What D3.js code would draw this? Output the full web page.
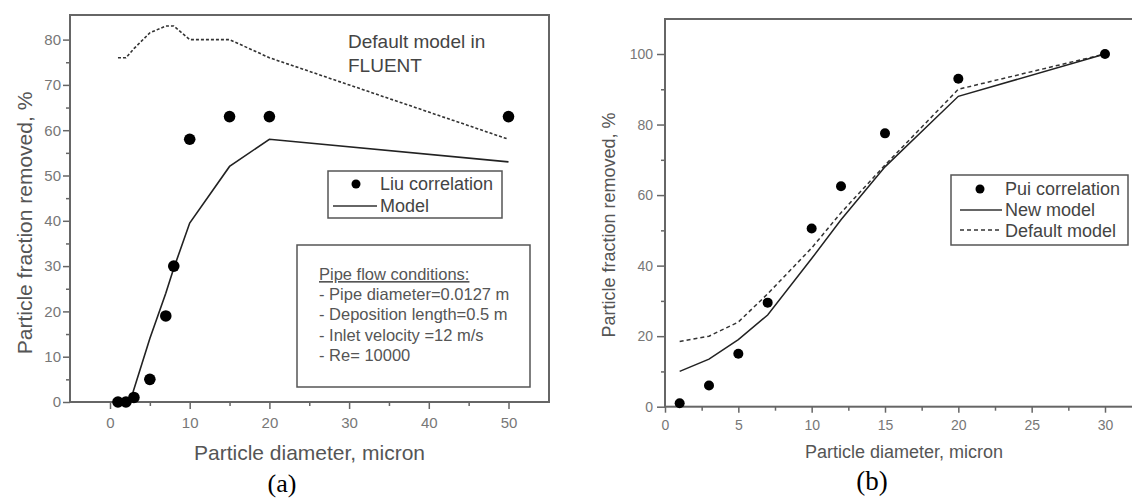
<!DOCTYPE html>
<head>
<meta charset="utf-8">
<script src="https://d3js.org/d3.v7.min.js"></script>
<style>
body { margin:0; background:#fff; }
svg { font-family: "Liberation Sans", Arial, sans-serif; }
.axis path { display:none; }
.axis line { stroke:#666; stroke-width:1.5; }
.axis text { fill:#777; font-family:"Liberation Sans", Arial, sans-serif; }
.frame { fill:none; stroke:#666; stroke-width:2; }
</style>
</head>
<body>
<svg width="1132" height="498"></svg>
<script>
// panel (a) - Liu correlation vs model vs FLUENT default
var liuX = [1, 2, 3, 5, 7, 8, 10, 15, 20, 50];
var liuY = [0, 0, 1, 5, 19, 30, 58, 63, 63, 63];
var modelAX = [1, 2.5, 5, 7, 8, 10, 15, 20, 50];
var modelAY = [0, 0, 14, 24, 29.5, 39.5, 52, 58, 53];
var fluentX = [1, 2, 3, 5, 7, 8, 10, 15, 20, 50];
var fluentY = [76, 76, 78, 81.5, 83, 83, 80, 80, 76, 58];
var ticksAX = [0, 10, 20, 30, 40, 50];
var ticksAY = [0, 10, 20, 30, 40, 50, 60, 70, 80];

// panel (b) - Pui correlation vs new / default model
var puiX = [1, 3, 5, 7, 10, 12, 15, 20, 30];
var puiY = [1, 6, 15, 29.5, 50.5, 62.5, 77.5, 93, 100];
var newModelY = [10, 13.5, 19, 26, 42, 53, 68, 88, 100];
var defModelY = [18.5, 20, 24, 32, 45, 55, 68.5, 90, 100];
var ticksBX = [0, 5, 10, 15, 20, 25, 30];
var ticksBY = [0, 20, 40, 60, 80, 100];

var svg = d3.select("svg");

function zip(xs, ys) { return xs.map((d, i) => ({x: d, y: ys[i]})); }

// ---------- (a) ----------
var aLeft = 70, aRight = 549, aTop = 15, aBottom = 402;
var xa = d3.scaleLinear().domain([0, 50]).range([110, 508.5]);
var ya = d3.scaleLinear().domain([0, 80]).range([402, 39.6]);

var ga = svg.append("g");

ga.append("g").attr("class", "axis")
  .attr("transform", "translate(0," + aBottom + ")")
  .call(d3.axisBottom(xa).tickValues([5, 15, 25, 35, 45]).tickSize(4).tickFormat(""));
ga.append("g").attr("class", "axis")
  .attr("transform", "translate(0," + aBottom + ")")
  .call(d3.axisBottom(xa).tickValues(ticksAX).tickSize(7).tickPadding(8))
  .selectAll("text").style("font-size", "15px");
ga.append("g").attr("class", "axis")
  .attr("transform", "translate(" + aLeft + ",0)")
  .call(d3.axisLeft(ya).tickValues([5, 15, 25, 35, 45, 55, 65, 75]).tickSize(4).tickFormat(""));
ga.append("g").attr("class", "axis")
  .attr("transform", "translate(" + aLeft + ",0)")
  .call(d3.axisLeft(ya).tickValues(ticksAY).tickSize(7).tickPadding(2))
  .selectAll("text").style("font-size", "15px");

ga.append("rect").attr("class", "frame")
  .attr("x", aLeft).attr("y", aTop).attr("width", aRight - aLeft).attr("height", aBottom - aTop);

var lineA = d3.line().x(d => xa(d.x)).y(d => ya(d.y));

ga.append("path").datum(zip(fluentX, fluentY))
  .attr("d", lineA).attr("fill", "none").attr("stroke", "#333")
  .attr("stroke-width", 1.6).attr("stroke-dasharray", "3,2");
ga.append("path").datum(zip(modelAX, modelAY))
  .attr("d", lineA).attr("fill", "none").attr("stroke", "#222").attr("stroke-width", 1.6);
ga.selectAll(".liu").data(zip(liuX, liuY)).enter().append("circle")
  .attr("cx", d => xa(d.x)).attr("cy", d => ya(d.y)).attr("r", 5.8).attr("fill", "#000");

ga.append("text").attr("x", 348).attr("y", 48).text("Default model in")
  .style("font-size", "19px").style("fill", "#444");
ga.append("text").attr("x", 348).attr("y", 72).text("FLUENT")
  .style("font-size", "19px").style("fill", "#444");

// legend (a)
ga.append("rect").attr("x", 328).attr("y", 171).attr("width", 174).attr("height", 47)
  .attr("fill", "#fff").attr("stroke", "#555").attr("stroke-width", 1.5);
ga.append("circle").attr("cx", 356).attr("cy", 184).attr("r", 4.5).attr("fill", "#000");
ga.append("text").attr("x", 380).attr("y", 190).text("Liu correlation")
  .style("font-size", "18px").style("fill", "#444");
ga.append("line").attr("x1", 333).attr("x2", 377).attr("y1", 206).attr("y2", 206)
  .attr("stroke", "#333").attr("stroke-width", 1.5);
ga.append("text").attr("x", 380).attr("y", 212).text("Model")
  .style("font-size", "18px").style("fill", "#444");

// pipe flow box
ga.append("rect").attr("x", 297).attr("y", 245).attr("width", 233).attr("height", 142)
  .attr("fill", "#fff").attr("stroke", "#555").attr("stroke-width", 1.5);
var pipeLines = ["Pipe flow conditions:", "- Pipe diameter=0.0127 m", "- Deposition length=0.5 m",
  "- Inlet velocity =12 m/s", "- Re= 10000"];
ga.selectAll(".pipe").data(pipeLines).enter().append("text")
  .attr("x", 319).attr("y", (d, i) => 280 + i * 20.2)
  .style("font-size", "16.5px").style("fill", "#555")
  .style("text-decoration", (d, i) => i == 0 ? "underline" : null)
  .text(d => d);

ga.append("text").attr("x", (aLeft + aRight) / 2).attr("y", 460).attr("text-anchor", "middle")
  .text("Particle diameter, micron").style("font-size", "21px").style("fill", "#555");
ga.append("text").attr("transform", "translate(32,223) rotate(-90)").attr("text-anchor", "middle")
  .text("Particle fraction removed, %").style("font-size", "21px").style("fill", "#555");
ga.append("text").attr("x", 282).attr("y", 492).attr("text-anchor", "middle")
  .text("(a)").style("font-family", "'Liberation Serif', 'Times New Roman', serif").style("font-size", "26px");

// ---------- (b) ----------
var bLeft = 665, bRight = 1140, bTop = 19, bBottom = 406.7;
var xb = d3.scaleLinear().domain([0, 30]).range([665, 1105]);
var yb = d3.scaleLinear().domain([0, 100]).range([406.7, 54]);

var gb = svg.append("g");

gb.append("g").attr("class", "axis")
  .attr("transform", "translate(0," + bBottom + ")")
  .call(d3.axisBottom(xb).tickValues([2.5, 7.5, 12.5, 17.5, 22.5, 27.5]).tickSize(4).tickFormat(""));
gb.append("g").attr("class", "axis")
  .attr("transform", "translate(0," + bBottom + ")")
  .call(d3.axisBottom(xb).tickValues(ticksBX).tickSize(6).tickPadding(7))
  .selectAll("text").style("font-size", "14px");
gb.append("g").attr("class", "axis")
  .attr("transform", "translate(" + bLeft + ",0)")
  .call(d3.axisLeft(yb).tickValues([10, 30, 50, 70, 90]).tickSize(4).tickFormat(""));
gb.append("g").attr("class", "axis")
  .attr("transform", "translate(" + bLeft + ",0)")
  .call(d3.axisLeft(yb).tickValues(ticksBY).tickSize(8).tickPadding(4))
  .selectAll("text").style("font-size", "14px");

gb.append("rect").attr("class", "frame")
  .attr("x", bLeft).attr("y", bTop).attr("width", bRight - bLeft).attr("height", bBottom - bTop);

var lineB = d3.line().x(d => xb(d.x)).y(d => yb(d.y));
gb.append("path").datum(zip(puiX, defModelY))
  .attr("d", lineB).attr("fill", "none").attr("stroke", "#333")
  .attr("stroke-width", 1.5).attr("stroke-dasharray", "4,3");
gb.append("path").datum(zip(puiX, newModelY))
  .attr("d", lineB).attr("fill", "none").attr("stroke", "#222").attr("stroke-width", 1.5);
gb.selectAll(".pui").data(zip(puiX, puiY)).enter().append("circle")
  .attr("cx", d => xb(d.x)).attr("cy", d => yb(d.y)).attr("r", 5).attr("fill", "#000");

// legend (b)
gb.append("rect").attr("x", 951).attr("y", 175).attr("width", 177).attr("height", 70)
  .attr("fill", "#fff").attr("stroke", "#555").attr("stroke-width", 1.5);
gb.append("circle").attr("cx", 980).attr("cy", 189).attr("r", 4.5).attr("fill", "#000");
gb.append("text").attr("x", 1005).attr("y", 195).text("Pui correlation")
  .style("font-size", "18px").style("fill", "#444");
gb.append("line").attr("x1", 960).attr("x2", 1002).attr("y1", 210).attr("y2", 210)
  .attr("stroke", "#333").attr("stroke-width", 1.5);
gb.append("text").attr("x", 1005).attr("y", 216).text("New model")
  .style("font-size", "18px").style("fill", "#444");
gb.append("line").attr("x1", 960).attr("x2", 1002).attr("y1", 230).attr("y2", 230)
  .attr("stroke", "#333").attr("stroke-width", 1.5).attr("stroke-dasharray", "4,3");
gb.append("text").attr("x", 1005).attr("y", 237).text("Default model")
  .style("font-size", "18px").style("fill", "#444");

gb.append("text").attr("x", 904).attr("y", 458).attr("text-anchor", "middle")
  .text("Particle diameter, micron").style("font-size", "18px").style("fill", "#555");
gb.append("text").attr("transform", "translate(615,225) rotate(-90)").attr("text-anchor", "middle")
  .text("Particle fraction removed, %").style("font-size", "18px").style("fill", "#555");
gb.append("text").attr("x", 872).attr("y", 490).attr("text-anchor", "middle")
  .text("(b)").style("font-family", "'Liberation Serif', 'Times New Roman', serif").style("font-size", "27px");
</script>
</body>
